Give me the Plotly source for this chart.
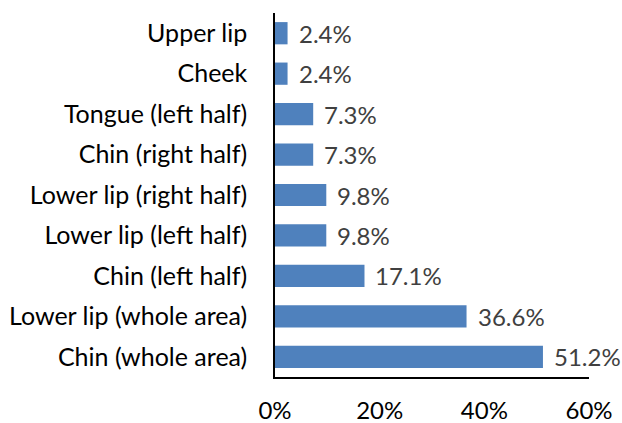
import plotly.graph_objects as go

categories = ["Chin (whole area)", "Lower lip (whole area)", "Chin (left half)",
              "Lower lip (left half)", "Lower lip (right half)", "Chin (right half)",
              "Tongue (left half)", "Cheek", "Upper lip"]
values = [51.2, 36.6, 17.1, 9.8, 9.8, 7.3, 7.3, 2.4, 2.4]
x_ticks = [0, 20, 40, 60]
x_tick_labels = ["0%", "20%", "40%", "60%"]

font_family = "Lato, 'Open Sans', sans-serif"
fsize = 24

fig = go.Figure(go.Bar(
    y=categories,
    x=[v / 100 for v in values],
    orientation="h",
    marker=dict(color="#4F81BD", line=dict(width=0)),
    cliponaxis=False,
))

for c, v in zip(categories, values):
    fig.add_annotation(
        x=v / 100, y=c, xref="x", yref="y",
        text=f"{v:.1f}%", showarrow=False,
        xanchor="left", yanchor="middle", xshift=9,
        font=dict(color="#404040", size=fsize, family=font_family),
    )

fig.update_layout(
    width=622, height=423,
    margin=dict(l=275, r=33, t=13, b=46),
    paper_bgcolor="white", plot_bgcolor="white",
    bargap=0.45,
    showlegend=False,
    font=dict(family=font_family, size=fsize, color="#000000"),
    xaxis=dict(
        range=[0, 0.6],
        tickvals=[t / 100 for t in x_ticks],
        ticktext=x_tick_labels,
        showgrid=False, zeroline=False,
        showline=True, linecolor="#000000", linewidth=1.5,
        ticks="", ticklabelstandoff=11, automargin=False,
        tickfont=dict(size=fsize, color="#000000"),
    ),
    yaxis=dict(
        showgrid=False, zeroline=False,
        showline=True, linecolor="#000000", linewidth=1.5,
        ticks="", ticklabelstandoff=21, automargin=False,
        tickfont=dict(size=25, color="#000000"),
    ),
)

fig.write_html(
    "out.html",
    config={"displayModeBar": False},
    post_script="document.body.style.margin='0';document.body.style.overflow='hidden';",
)
